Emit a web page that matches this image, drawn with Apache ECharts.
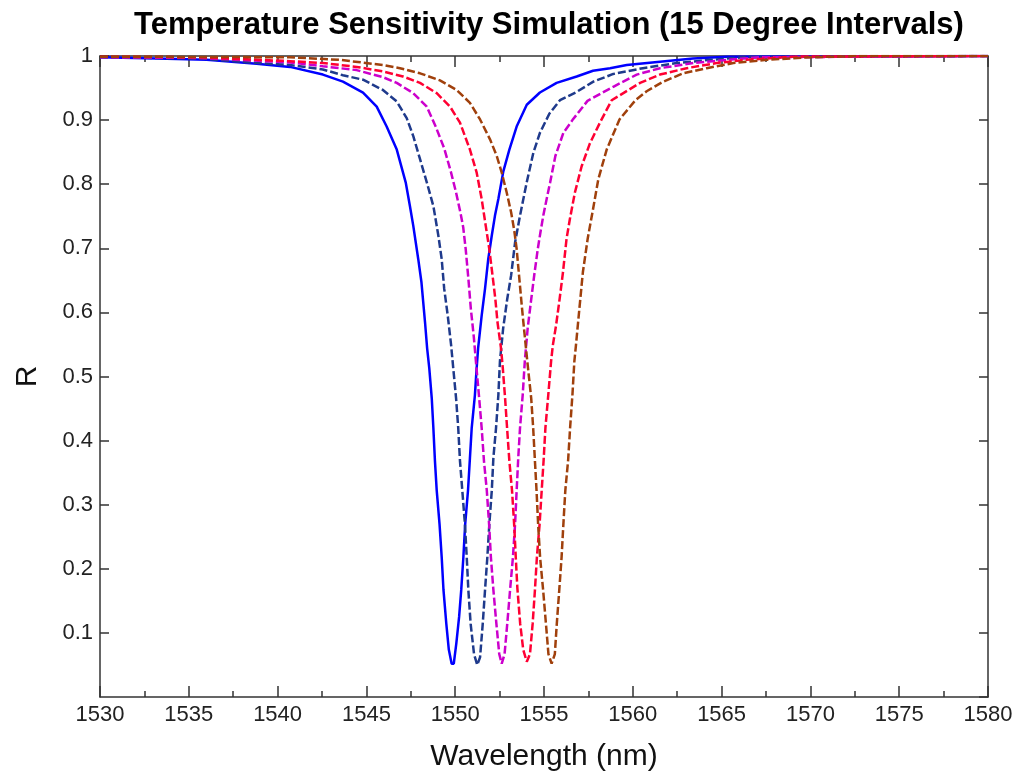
<!DOCTYPE html>
<html>
<head>
<meta charset="utf-8">
<script src="https://cdn.jsdelivr.net/npm/echarts@6/dist/echarts.min.js"></script>
<style>
  html, body { margin: 0; padding: 0; background: #fff; }
  #chart { width: 1018px; height: 777px; }
</style>
</head>
<body>
<div id="chart"></div>
<script>
// reflectance curves, [wavelength nm, R]
var blueSolid = [
  [1530, 0.998], [1533.19, 0.996], [1536.01, 0.994], [1538.82, 0.988], [1540.7, 0.983],
  [1542.55, 0.971], [1543.68, 0.960], [1544.81, 0.943], [1545.58, 0.921], [1546.14, 0.890],
  [1546.71, 0.854], [1547.22, 0.802], [1547.45, 0.766], [1547.64, 0.735], [1547.92, 0.683],
  [1548.1, 0.647], [1548.3, 0.585], [1548.42, 0.544], [1548.54, 0.513], [1548.68, 0.466],
  [1548.77, 0.420], [1548.86, 0.368], [1548.96, 0.322], [1549.12, 0.269], [1549.24, 0.218],
  [1549.34, 0.167], [1549.5, 0.114], [1549.64, 0.074], [1549.8, 0.052], [1549.92, 0.052],
  [1550.06, 0.083], [1550.22, 0.125], [1550.34, 0.167], [1550.46, 0.218], [1550.56, 0.269],
  [1550.72, 0.322], [1550.83, 0.373], [1550.93, 0.420], [1551.11, 0.471], [1551.2, 0.510],
  [1551.29, 0.544], [1551.49, 0.595], [1551.68, 0.637], [1551.86, 0.683], [1552.06, 0.720],
  [1552.24, 0.751], [1552.43, 0.777], [1552.71, 0.820], [1553.05, 0.854], [1553.46, 0.890],
  [1554.03, 0.924], [1554.77, 0.943], [1555.71, 0.958], [1556.84, 0.968], [1557.76, 0.977],
  [1558.72, 0.981], [1559.66, 0.986], [1561.53, 0.991], [1563.39, 0.996], [1565.29, 0.999],
  [1580, 1.0]
];
var navyDash = [
  [1530, 0.998], [1535.63, 0.996], [1538.82, 0.989], [1540.7, 0.986], [1542.55, 0.979],
  [1543.68, 0.970], [1544.81, 0.963], [1545.93, 0.947], [1546.71, 0.929], [1547.27, 0.903],
  [1547.64, 0.875], [1548.02, 0.839], [1548.4, 0.803], [1548.77, 0.766], [1549.05, 0.720],
  [1549.24, 0.683], [1549.38, 0.637], [1549.58, 0.595], [1549.77, 0.549], [1549.89, 0.513],
  [1550.05, 0.466], [1550.17, 0.420], [1550.27, 0.368], [1550.4, 0.322], [1550.55, 0.269],
  [1550.65, 0.218], [1550.74, 0.167], [1550.87, 0.114], [1551.06, 0.067], [1551.24, 0.050],
  [1551.4, 0.062], [1551.55, 0.114], [1551.68, 0.167], [1551.81, 0.218], [1551.92, 0.269],
  [1552.06, 0.322], [1552.15, 0.373], [1552.3, 0.420], [1552.43, 0.471], [1552.52, 0.524],
  [1552.7, 0.575], [1552.93, 0.621], [1553.15, 0.658], [1553.37, 0.709], [1553.65, 0.751],
  [1554.02, 0.802], [1554.4, 0.849], [1554.77, 0.880], [1555.3, 0.910], [1555.9, 0.931],
  [1556.84, 0.944], [1557.78, 0.960], [1558.9, 0.972], [1560.57, 0.981], [1562.47, 0.989],
  [1564.35, 0.994], [1566.2, 0.998], [1580, 1.0]
];
var magentaDash = [
  [1530, 0.998], [1535.63, 0.997], [1540.7, 0.990], [1542.55, 0.984], [1544.45, 0.978],
  [1545.93, 0.967], [1546.71, 0.958], [1547.64, 0.942], [1548.4, 0.921], [1548.9, 0.890],
  [1549.38, 0.856], [1549.75, 0.820], [1550.05, 0.787], [1550.3, 0.755], [1550.45, 0.733],
  [1550.59, 0.699], [1550.75, 0.650], [1550.88, 0.606], [1551.05, 0.561], [1551.2, 0.513],
  [1551.35, 0.466], [1551.49, 0.420], [1551.62, 0.368], [1551.78, 0.322], [1551.91, 0.269],
  [1552.01, 0.218], [1552.15, 0.167], [1552.32, 0.114], [1552.48, 0.067], [1552.62, 0.052],
  [1552.78, 0.067], [1552.93, 0.114], [1553.09, 0.167], [1553.25, 0.218], [1553.37, 0.269],
  [1553.46, 0.322], [1553.55, 0.373], [1553.65, 0.420], [1553.8, 0.471], [1553.92, 0.524],
  [1554.08, 0.575], [1554.26, 0.616], [1554.45, 0.658], [1554.65, 0.699], [1554.8, 0.725],
  [1554.96, 0.751], [1555.15, 0.777], [1555.34, 0.802], [1555.64, 0.844], [1556.09, 0.880],
  [1556.6, 0.900], [1557.45, 0.930], [1558.9, 0.952], [1560.22, 0.971], [1561.53, 0.981],
  [1563.41, 0.989], [1565.29, 0.994], [1567.16, 0.998], [1580, 1.0]
];
var redDash = [
  [1530, 0.999], [1535.63, 0.998], [1540.7, 0.992], [1542.55, 0.989], [1544.45, 0.983],
  [1545.93, 0.976], [1547.06, 0.968], [1548.02, 0.958], [1548.96, 0.942], [1549.71, 0.921],
  [1550.27, 0.896], [1550.83, 0.854], [1551.21, 0.818], [1551.49, 0.777], [1551.72, 0.735],
  [1551.92, 0.699], [1552.1, 0.658], [1552.26, 0.621], [1552.38, 0.585], [1552.58, 0.544],
  [1552.68, 0.513], [1552.81, 0.466], [1552.92, 0.420], [1553.05, 0.368], [1553.2, 0.322],
  [1553.32, 0.269], [1553.41, 0.218], [1553.5, 0.170], [1553.66, 0.114], [1553.83, 0.074],
  [1554.03, 0.055], [1554.21, 0.067], [1554.36, 0.114], [1554.49, 0.167], [1554.6, 0.218],
  [1554.75, 0.269], [1554.87, 0.322], [1554.98, 0.370], [1555.08, 0.420], [1555.24, 0.471],
  [1555.4, 0.524], [1555.5, 0.549], [1555.68, 0.580], [1555.88, 0.621], [1556.07, 0.663],
  [1556.27, 0.715], [1556.46, 0.746], [1556.74, 0.787], [1557.12, 0.828], [1557.59, 0.864],
  [1558.15, 0.896], [1558.81, 0.931], [1560.41, 0.958], [1561.53, 0.971], [1563.03, 0.981],
  [1564.72, 0.989], [1566.41, 0.994], [1569.02, 0.999], [1580, 1.0]
];
var brownDash = [
  [1530, 0.999], [1540.7, 0.998], [1543.51, 0.994], [1545.93, 0.986], [1546.89, 0.981],
  [1548.02, 0.973], [1549.14, 0.962], [1550.08, 0.947], [1550.83, 0.927], [1551.4, 0.901],
  [1551.96, 0.870], [1552.34, 0.844], [1552.62, 0.818], [1552.9, 0.787], [1553.15, 0.756],
  [1553.33, 0.727], [1553.46, 0.699], [1553.62, 0.650], [1553.75, 0.610], [1553.88, 0.573],
  [1554.1, 0.513], [1554.28, 0.466], [1554.39, 0.420], [1554.49, 0.368], [1554.58, 0.322],
  [1554.67, 0.269], [1554.78, 0.218], [1554.95, 0.167], [1555.11, 0.114], [1555.25, 0.067],
  [1555.43, 0.052], [1555.61, 0.067], [1555.72, 0.114], [1555.86, 0.167], [1555.99, 0.218],
  [1556.09, 0.269], [1556.2, 0.322], [1556.36, 0.370], [1556.47, 0.420], [1556.6, 0.471],
  [1556.71, 0.524], [1556.8, 0.549], [1557.01, 0.611], [1557.19, 0.663], [1557.46, 0.715],
  [1557.76, 0.761], [1558.06, 0.808], [1558.53, 0.854], [1559.25, 0.901], [1560.15, 0.931],
  [1560.78, 0.945], [1561.72, 0.960], [1562.84, 0.973], [1564.16, 0.981], [1565.66, 0.989],
  [1567.54, 0.994], [1569.98, 0.998], [1572.79, 1.0], [1580, 1.0]
];

var curves = [
  { data: blueSolid, color: "#0000ff", type: "solid" },
  { data: navyDash, color: "#1f3a8c", type: [8, 3] },
  { data: magentaDash, color: "#cc00cc", type: [8, 3] },
  { data: redDash, color: "#ff0033", type: [8, 3] },
  { data: brownDash, color: "#a0400c", type: [8, 3] }
];

var xMin = 1530, xMax = 1580, xStep = 5;
var yMin = 0, yMax = 1, yStep = 0.1;

var axisColor = "#333";
var labelFont = "Liberation Sans, Arial, sans-serif";

function xAxisBase(pos, showLabel) {
  return {
    type: "value",
    position: pos,
    min: xMin,
    max: xMax,
    interval: xStep,
    axisLine: { show: true, onZero: false, lineStyle: { color: axisColor, width: 1.5 } },
    axisTick: { show: true, inside: true, length: 11, lineStyle: { color: axisColor, width: 1.5 } },
    minorTick: { show: true, splitNumber: 2, length: 6, lineStyle: { color: axisColor, width: 1.5 } },
    axisLabel: {
      show: showLabel, color: "#222", fontSize: 22, fontFamily: labelFont, margin: 7,
      formatter: function (v) { return String(v); }
    },
    splitLine: { show: false }
  };
}

function yAxisBase(pos, showLabel) {
  return {
    type: "value",
    position: pos,
    min: yMin,
    max: yMax,
    interval: yStep,
    axisLine: { show: true, onZero: false, lineStyle: { color: axisColor, width: 1.5 } },
    axisTick: { show: true, inside: true, length: 9, lineStyle: { color: axisColor, width: 1.5 } },
    axisLabel: {
      show: showLabel, color: "#222", fontSize: 22, fontFamily: labelFont, margin: 7,
      showMinLabel: false,
      formatter: function (v) { return String(Math.round(v * 10) / 10); }
    },
    splitLine: { show: false }
  };
}

var xBottom = xAxisBase("bottom", true);
xBottom.name = "Wavelength (nm)";
xBottom.nameLocation = "middle";
xBottom.nameGap = 45;
xBottom.nameTextStyle = { color: "#111", fontSize: 30, fontFamily: labelFont };

var yLeft = yAxisBase("left", true);
yLeft.name = "R";
yLeft.nameLocation = "middle";
yLeft.nameGap = 57;
yLeft.nameTextStyle = { color: "#111", fontSize: 30, fontFamily: labelFont };

var chart = echarts.init(document.getElementById("chart"));
chart.setOption({
  animation: false,
  backgroundColor: "#fff",
  title: {
    text: "Temperature Sensitivity Simulation (15 Degree Intervals)",
    left: 544,
    textAlign: "center",
    top: 5,
    textStyle: { color: "#000", fontSize: 31, fontWeight: "bold", fontFamily: labelFont }
  },
  grid: { left: 100, right: 30, top: 56, bottom: 77, containLabel: false },
  xAxis: [xBottom, xAxisBase("top", false)],
  yAxis: [yLeft, yAxisBase("right", false)],
  series: curves.map(function (c) {
    return {
      type: "line",
      xAxisIndex: 0,
      yAxisIndex: 0,
      data: c.data,
      showSymbol: false,
      smooth: false,
      clip: true,
      lineStyle: { color: c.color, width: 2.5, type: c.type }
    };
  })
});
</script>
</body>
</html>
